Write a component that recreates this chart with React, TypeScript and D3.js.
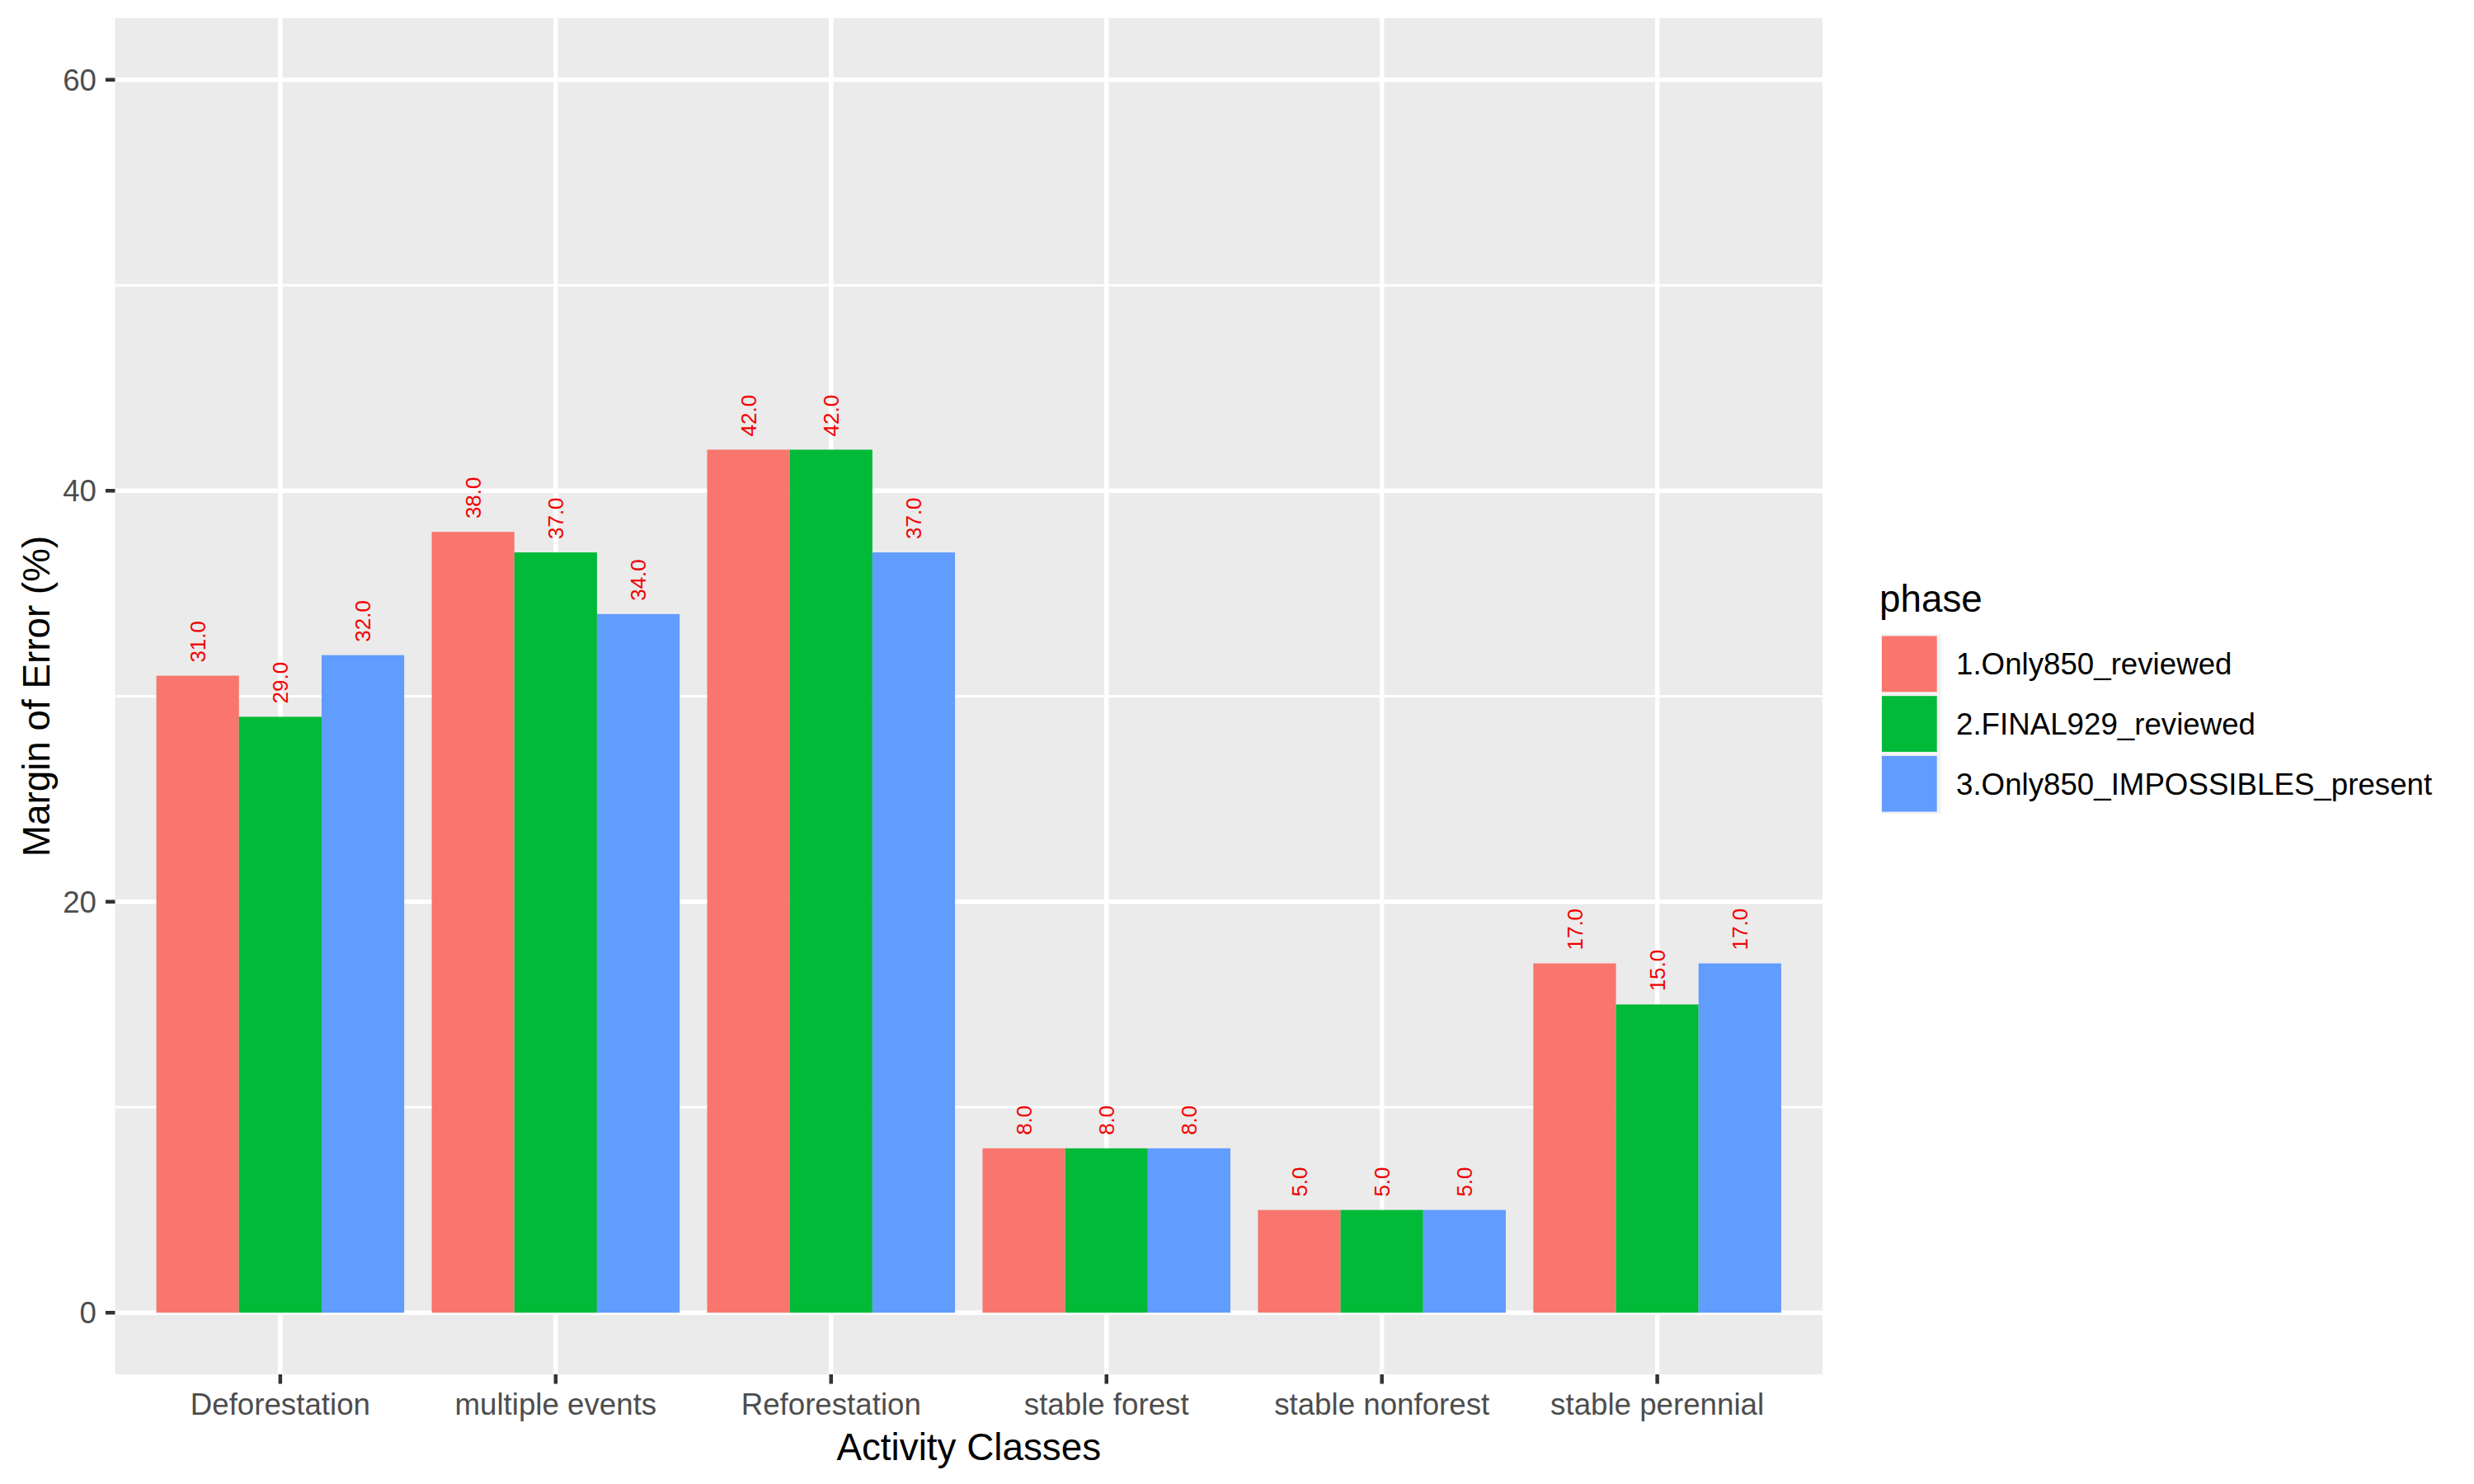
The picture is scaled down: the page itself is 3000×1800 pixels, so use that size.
import React from "react";
import * as d3 from "d3";

const categories = ["Deforestation", "multiple events", "Reforestation", "stable forest", "stable nonforest", "stable perennial"];
const phases = ["1.Only850_reviewed", "2.FINAL929_reviewed", "3.Only850_IMPOSSIBLES_present"];
const phaseColors = ["#F8766D", "#00BA38", "#619CFF"];
const only850Reviewed = [31, 38, 42, 8, 5, 17];
const final929Reviewed = [29, 37, 42, 8, 5, 15];
const only850Impossibles = [32, 34, 37, 8, 5, 17];
const seriesValues = [only850Reviewed, final929Reviewed, only850Impossibles];
const yMajorTicks = [0, 20, 40, 60];
const yMinorTicks = [10, 30, 50];

const W = 3000;
const H = 1800;
const P = { left: 139.5, right: 2210, top: 22, bottom: 1667 };
const FONT = "'Liberation Sans', Arial, Helvetica, sans-serif";

export default function App() {
  const x = d3.scaleBand<string>().domain(categories).range([P.left, P.right]).paddingInner(0.1).paddingOuter(0.15);
  const xInner = d3.scaleBand<string>().domain(phases).range([0, x.bandwidth()]).padding(0);
  const y = d3.scaleLinear().domain([-3, 63]).range([P.bottom, P.top]);

  const legendX = 2281;
  const legendKeyTop = 769;
  const keySize = 72.7;

  return (
    <svg width={W} height={H} style={{ display: "block", position: "absolute", left: 0, top: 0 }} fontFamily={FONT}>
      <rect x={0} y={0} width={W} height={H} fill="#FFFFFF" />
      <rect x={P.left} y={P.top} width={P.right - P.left} height={P.bottom - P.top} fill="#EBEBEB" />
      {yMinorTicks.map((t) => (
        <line key={"mi" + t} x1={P.left} x2={P.right} y1={y(t)} y2={y(t)} stroke="#FFFFFF" strokeWidth={3} />
      ))}
      {yMajorTicks.map((t) => (
        <line key={"ma" + t} x1={P.left} x2={P.right} y1={y(t)} y2={y(t)} stroke="#FFFFFF" strokeWidth={5.5} />
      ))}
      {categories.map((c) => {
        const cx = (x(c) as number) + x.bandwidth() / 2;
        return <line key={"vx" + c} x1={cx} x2={cx} y1={P.top} y2={P.bottom} stroke="#FFFFFF" strokeWidth={5.5} />;
      })}
      {categories.map((c, ci) =>
        phases.map((p, pi) => {
          const v = seriesValues[pi][ci];
          const bx = (x(c) as number) + (xInner(p) as number);
          const bw = xInner.bandwidth();
          const top = y(v);
          const cx = bx + bw / 2;
          const ty = top - 16;
          return (
            <g key={c + p}>
              <rect x={bx} y={top} width={bw} height={y(0) - top} fill={phaseColors[pi]} />
              <text
                x={cx}
                y={ty}
                transform={`rotate(-90 ${cx} ${ty})`}
                fontSize={26}
                fill="#F20000"
                textAnchor="start"
                dy="0.35em"
              >
                {v.toFixed(1)}
              </text>
            </g>
          );
        })
      )}
      {yMajorTicks.map((t) => (
        <g key={"yt" + t}>
          <line x1={P.left - 11.5} x2={P.left} y1={y(t)} y2={y(t)} stroke="#333333" strokeWidth={4.5} />
          <text x={117} y={y(t)} dy="0.35em" textAnchor="end" fontSize={36.7} fill="#4D4D4D">
            {t}
          </text>
        </g>
      ))}
      {categories.map((c) => {
        const cx = (x(c) as number) + x.bandwidth() / 2;
        return (
          <g key={"xt" + c}>
            <line x1={cx} x2={cx} y1={P.bottom} y2={P.bottom + 11.5} stroke="#333333" strokeWidth={4.5} />
            <text x={cx} y={1716} textAnchor="middle" fontSize={36.7} fill="#4D4D4D">
              {c}
            </text>
          </g>
        );
      })}
      <text x={(P.left + P.right) / 2} y={1771} textAnchor="middle" fontSize={45.8} fill="#000000">
        Activity Classes
      </text>
      <text
        x={60}
        y={(P.top + P.bottom) / 2}
        transform={`rotate(-90 60 ${(P.top + P.bottom) / 2})`}
        textAnchor="middle"
        fontSize={45.8}
        fill="#000000"
      >
        Margin of Error (%)
      </text>
      <text x={legendX - 2} y={742} fontSize={45.8} fill="#000000">
        phase
      </text>
      {phases.map((p, i) => {
        const ky = legendKeyTop + i * keySize;
        return (
          <g key={"lg" + p}>
            <rect x={legendX} y={ky} width={keySize} height={keySize} fill="#F2F2F2" />
            <rect x={legendX + 1} y={ky + 2.5} width={keySize - 6} height={keySize - 5} fill={phaseColors[i]} />
            <text x={2372} y={ky + keySize / 2} dy="0.35em" fontSize={36.7} fill="#000000">
              {p}
            </text>
          </g>
        );
      })}
    </svg>
  );
}
